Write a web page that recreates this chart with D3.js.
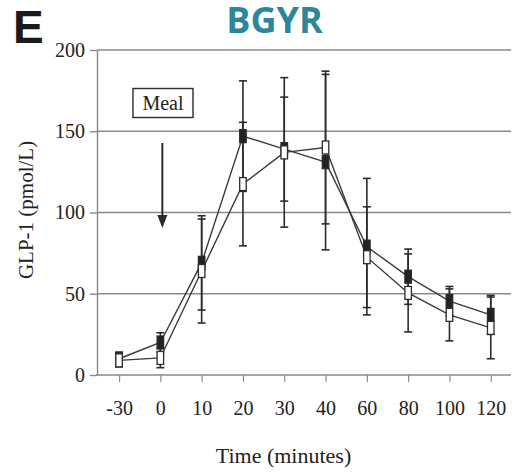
<!DOCTYPE html>
<html>
<head>
<meta charset="utf-8">
<script src="https://cdn.jsdelivr.net/npm/d3@7"></script>
<style>
  html, body { margin: 0; padding: 0; background: #fff; }
  svg { display: block; }
</style>
</head>
<body>
<svg id="chart" width="517" height="472"></svg>
<script>
// Time points (minutes) after the meal
const categories = ["-30", "0", "10", "20", "30", "40", "60", "80", "100", "120"];

// GLP-1 (pmol/L), filled-square group: mean and error
const filledMean = [10, 20, 69, 147, 139, 131, 79, 60.5, 45.5, 37];
const filledErr  = [4, 6, 29, 34, 32, 54, 42, 17, 9, 12];

// GLP-1 (pmol/L), open-square group: mean and error
const openMean = [9, 10.5, 64, 117.5, 137, 140, 72.5, 50.5, 37, 29];
const openErr  = [4, 6, 32, 38, 46, 47, 31, 24, 16, 19];

const yTicks = [0, 50, 100, 150, 200];

const svg = d3.select("#chart");
const plotLeft = 97, plotRight = 511, plotTop = 50, plotBottom = 375;

const x = d3.scalePoint().domain(categories).range([98.4, 511.4]).padding(0.5);
const y = d3.scaleLinear().domain([0, 200]).range([plotBottom, plotTop]);

const serif = "'Liberation Serif', 'Times New Roman', serif";
const gridColor = "#8a8a8a";
const ink = "#2b2b2b";

// Panel letter and title
svg.append("text").attr("x", 13).attr("y", 43)
  .attr("font-family", "'Liberation Sans', Arial, sans-serif")
  .attr("font-weight", "bold").attr("font-size", 46).attr("fill", "#1a1a1a")
  .text("E");
svg.append("text").attr("x", 274.5).attr("y", 33).attr("text-anchor", "middle")
  .attr("font-family", "'Open Sans', sans-serif")
  .attr("font-weight", "bold").attr("font-size", 36).attr("fill", "#2d879c")
  .text("BGYR");

// Horizontal gridlines
svg.append("g").selectAll("line").data(yTicks.filter(d => d > 0)).join("line")
  .attr("x1", plotLeft).attr("x2", plotRight)
  .attr("y1", d => y(d)).attr("y2", d => y(d))
  .attr("stroke", gridColor).attr("stroke-width", 1.6);

// Y axis
const yAxis = svg.append("g").attr("transform", `translate(${plotLeft},0)`)
  .call(d3.axisLeft(y).tickValues(yTicks).tickSize(7).tickPadding(5).tickSizeOuter(0));
yAxis.select(".domain").attr("stroke", gridColor).attr("stroke-width", 1.4);
yAxis.selectAll(".tick line").attr("stroke", gridColor).attr("stroke-width", 1.4);
yAxis.selectAll(".tick text").attr("font-family", serif).attr("font-size", 20)
  .attr("fill", "#222");

// X axis
const xAxis = svg.append("g").attr("transform", `translate(0,${plotBottom})`)
  .call(d3.axisBottom(x).tickSize(7).tickPadding(19).tickSizeOuter(0));
xAxis.select(".domain").attr("d", `M${plotLeft - 1},0H${plotRight}`)
  .attr("stroke", gridColor).attr("stroke-width", 1.4);
xAxis.selectAll(".tick line").attr("stroke", gridColor).attr("stroke-width", 1.2);
xAxis.selectAll(".tick text").attr("font-family", serif).attr("font-size", 20)
  .attr("fill", "#222");

// Axis titles
svg.append("text").attr("transform", "translate(33,210) rotate(-90)")
  .attr("text-anchor", "middle").attr("font-family", serif).attr("font-size", 21)
  .attr("fill", "#222").text("GLP-1 (pmol/L)");
svg.append("text").attr("x", 283.5).attr("y", 463).attr("text-anchor", "middle")
  .attr("font-family", serif).attr("font-size", 22).attr("fill", "#222")
  .text("Time (minutes)");

// Meal annotation: box and arrow
svg.append("rect").attr("x", 133).attr("y", 88.5).attr("width", 60).attr("height", 29)
  .attr("fill", "#fff").attr("stroke", ink).attr("stroke-width", 1.4);
svg.append("text").attr("x", 163).attr("y", 110).attr("text-anchor", "middle")
  .attr("font-family", serif).attr("font-size", 20).attr("fill", "#222").text("Meal");
const ax = x("0") + 2;
svg.append("line").attr("x1", ax).attr("x2", ax).attr("y1", 143).attr("y2", 218)
  .attr("stroke", ink).attr("stroke-width", 2);
svg.append("path")
  .attr("d", `M${ax - 5},215L${ax + 5},215L${ax},228Z`).attr("fill", ink);

const series = [
  { mean: filledMean, err: filledErr, fill: "#222" },
  { mean: openMean, err: openErr, fill: "#fff" }
];

// Error bars
const capW = 4;
series.forEach(s => {
  const g = svg.append("g").attr("stroke", ink).attr("stroke-width", 1.6);
  categories.forEach((c, i) => {
    const cx = x(c), hi = y(s.mean[i] + s.err[i]), lo = y(Math.max(0, s.mean[i] - s.err[i]));
    g.append("line").attr("x1", cx).attr("x2", cx).attr("y1", hi).attr("y2", lo);
    g.append("line").attr("x1", cx - capW).attr("x2", cx + capW).attr("y1", hi).attr("y2", hi);
    g.append("line").attr("x1", cx - capW).attr("x2", cx + capW).attr("y1", lo).attr("y2", lo);
  });
});

// Connecting lines
const line = d3.line().x((d, i) => x(categories[i])).y(d => y(d));
series.forEach(s => {
  svg.append("path").datum(s.mean).attr("d", line)
    .attr("fill", "none").attr("stroke", "#3a3a3a").attr("stroke-width", 1.4);
});

// Rectangular markers
const mw = 6.5, mh = 13;
series.forEach(s => {
  svg.append("g").selectAll("rect").data(s.mean).join("rect")
    .attr("x", (d, i) => x(categories[i]) - mw / 2)
    .attr("y", d => y(d) - mh / 2)
    .attr("width", mw).attr("height", mh)
    .attr("fill", s.fill).attr("stroke", ink).attr("stroke-width", 1.3);
});
</script>
</body>
</html>
